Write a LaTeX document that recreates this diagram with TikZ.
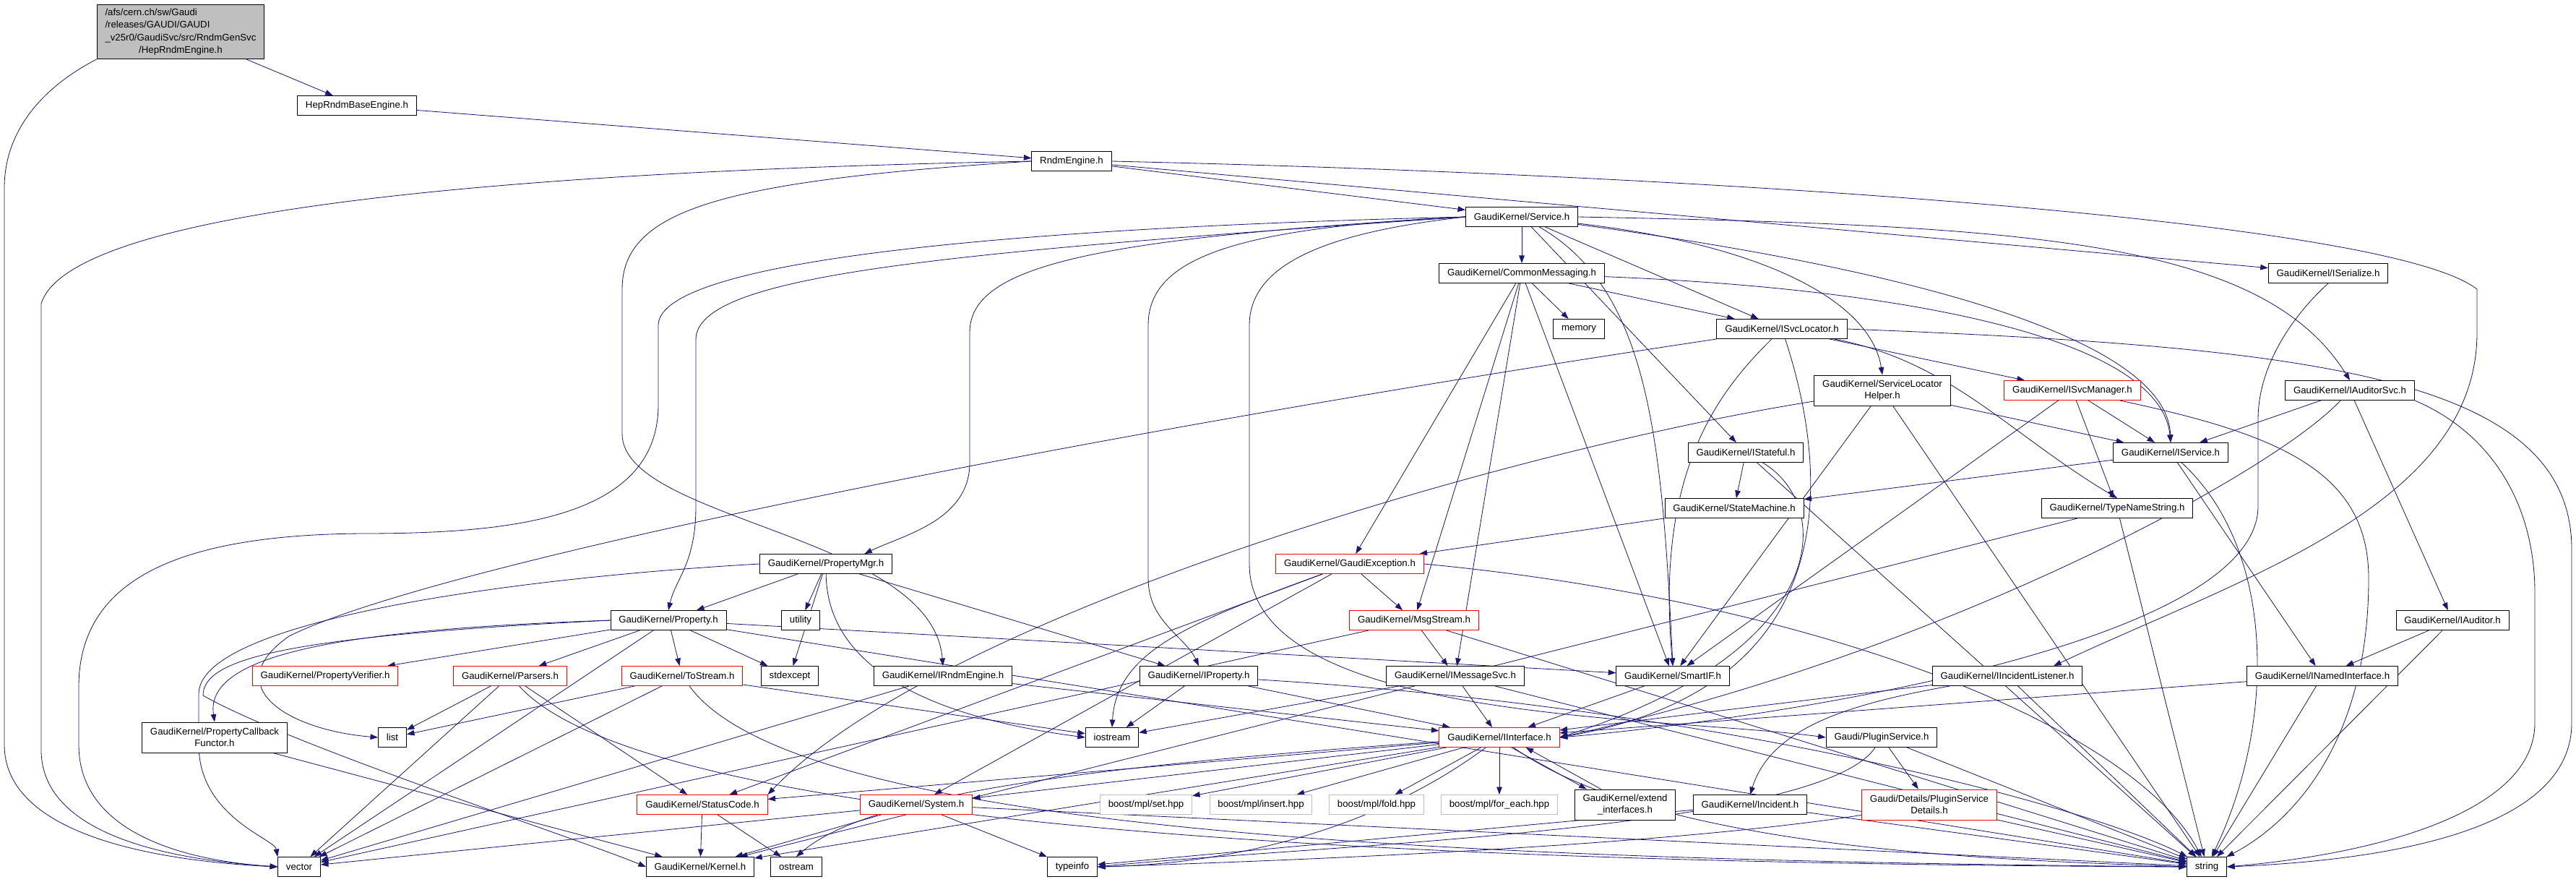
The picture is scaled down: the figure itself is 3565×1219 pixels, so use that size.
\documentclass[tikz,border=0pt]{standalone}
\usepackage{fontspec}
\setmainfont{Liberation Sans}
\usetikzlibrary{arrows.meta}
\definecolor{depblue}{HTML}{191970}
\definecolor{cutred}{HTML}{FF0000}
\definecolor{extgrey}{HTML}{BFBFBF}
\definecolor{rootgrey}{HTML}{BFBFBF}
\pgfdeclarelayer{edges}
\pgfsetlayers{edges,main}

\begin{document}
\begin{tikzpicture}[x=0.03cm,y=-0.03cm,
  hdr/.style={draw,fill=white,line width=0.8pt,font=\fontsize{11.3}{13.4}\selectfont,
    inner xsep=0.34cm,inner ysep=0pt,minimum height=0.81cm},
  cut/.style={hdr,draw=cutred},
  extern/.style={hdr,draw=extgrey},
  two/.style={align=center,minimum height=1.26cm},
  dep/.style={draw=depblue,line width=0.7pt,-{Triangle[length=9pt,width=6.5pt]}}]
  \useasboundingbox (0,0) rectangle (3565,1219);
  % header files, placed row by row
  \node[hdr,fill=rootgrey,minimum height=2.25cm] (root) at (250,44)
    {\renewcommand{\arraystretch}{1.12}\begin{tabular}{@{}l@{}}/afs/cern.ch/sw/Gaudi\\/releases/GAUDI/GAUDI\\\_v25r0/GaudiSvc/src/RndmGenSvc\\\multicolumn{1}{@{}c@{}}{/HepRndmEngine.h}\end{tabular}};
  \node[hdr] (hrbe) at (494,146) {HepRndmBaseEngine.h};
  \node[hdr] (rndm) at (1483,223) {RndmEngine.h};
  \node[hdr] (svc) at (2106,300) {GaudiKernel/Service.h};
  \node[hdr] (cmsg) at (2106,378) {GaudiKernel/CommonMessaging.h};
  \node[hdr] (iser) at (3222,378) {GaudiKernel/ISerialize.h};
  \node[hdr] (mem) at (2185,455) {memory};
  \node[hdr] (isl) at (2466,455) {GaudiKernel/ISvcLocator.h};
  \node[hdr,two] (slh) at (2605,540) {GaudiKernel/ServiceLocator\\Helper.h};
  \node[cut] (ism) at (2868,540) {GaudiKernel/ISvcManager.h};
  \node[hdr] (iaud) at (3252,540) {GaudiKernel/IAuditorSvc.h};
  \node[hdr] (istf) at (2416,626) {GaudiKernel/IStateful.h};
  \node[hdr] (isrv) at (3004,626) {GaudiKernel/IService.h};
  \node[hdr] (stm) at (2400,703) {GaudiKernel/StateMachine.h};
  \node[hdr] (tns) at (2930,703) {GaudiKernel/TypeNameString.h};
  \node[hdr] (pmgr) at (1143,780) {GaudiKernel/PropertyMgr.h};
  \node[cut] (gexc) at (1868,780) {GaudiKernel/GaudiException.h};
  \node[hdr] (prop) at (925,858) {GaudiKernel/Property.h};
  \node[hdr] (util) at (1108,858) {utility};
  \node[cut] (msg) at (1957,858) {GaudiKernel/MsgStream.h};
  \node[hdr] (iaudr) at (3394,858) {GaudiKernel/IAuditor.h};
  \node[cut] (pver) at (450,935) {GaudiKernel/PropertyVerifier.h};
  \node[cut] (pars) at (706,935) {GaudiKernel/Parsers.h};
  \node[cut] (tost) at (944,935) {GaudiKernel/ToStream.h};
  \node[hdr] (stdx) at (1093,935) {stdexcept};
  \node[hdr] (irnd) at (1305,935) {GaudiKernel/IRndmEngine.h};
  \node[hdr] (iprp) at (1659,935) {GaudiKernel/IProperty.h};
  \node[hdr] (imsg) at (2014,935) {GaudiKernel/IMessageSvc.h};
  \node[hdr] (sif) at (2315,935) {GaudiKernel/SmartIF.h};
  \node[hdr] (iinc) at (2778,935) {GaudiKernel/IIncidentListener.h};
  \node[hdr] (inam) at (3214,935) {GaudiKernel/INamedInterface.h};
  \node[hdr,two] (pcf) at (297,1020) {GaudiKernel/PropertyCallback\\Functor.h};
  \node[hdr] (lst) at (543,1020) {list};
  \node[hdr] (iost) at (1539,1020) {iostream};
  \node[cut] (iint) at (2075,1020) {GaudiKernel/IInterface.h};
  \node[hdr] (plg) at (2604,1020) {Gaudi/PluginService.h};
  \node[cut] (stc) at (972,1113) {GaudiKernel/StatusCode.h};
  \node[cut] (sys) at (1268,1113) {GaudiKernel/System.h};
  \node[extern] (bset) at (1586,1113) {boost/mpl/set.hpp};
  \node[extern] (bins) at (1745,1113) {boost/mpl/insert.hpp};
  \node[extern] (bfold) at (1905,1113) {boost/mpl/fold.hpp};
  \node[extern] (bfe) at (2075,1113) {boost/mpl/for\_each.hpp};
  \node[hdr,two] (ext) at (2249,1113) {GaudiKernel/extend\\\_interfaces.h};
  \node[hdr] (incid) at (2422,1113) {GaudiKernel/Incident.h};
  \node[cut,two] (pdet) at (2670,1113) {Gaudi/Details/PluginService\\Details.h};
  \node[hdr] (vec) at (414,1199) {vector};
  \node[hdr] (kern) at (969,1199) {GaudiKernel/Kernel.h};
  \node[hdr] (ostr) at (1102,1199) {ostream};
  \node[hdr] (tinfo) at (1484,1199) {typeinfo};
  \node[hdr] (str) at (3054,1199) {string};

  \begin{pgfonlayer}{edges}
  % top of the graph
  \draw[dep] (root) -- (hrbe);
  \draw[dep] (root.south west) .. controls (60,120) and (6,180) .. (6,260) -- (6,1030) .. controls (6,1150) and (200,1190) .. (vec.west);
  \draw[dep] (hrbe) -- (rndm);
  \draw[dep] (rndm) -- (svc); \draw[dep] (rndm) -- (iser);
  \draw[dep] (rndm.east) .. controls (2300,240) and (3300,300) .. (3428,400) -- (3428,460) .. controls (3428,700) and (3100,800) .. ([xshift=-1.2cm]iinc.north east);
  \draw[dep] (rndm.west) .. controls (1000,250) and (861,290) .. (861,400) -- (861,600) .. controls (861,720) and (1290,740) .. (irnd.north);
  \draw[dep] (rndm.west) .. controls (800,235) and (100,280) .. (57,420) -- (57,1040) .. controls (60,1160) and (250,1190) .. (vec.west);
  % Service.h
  \draw[dep] (svc) -- (cmsg); \draw[dep] (svc) -- (isl); \draw[dep] (svc) -- (istf);
  \draw[dep] (svc.west) .. controls (1500,330) and (1342,370) .. (1342,460) -- (1342,640) .. controls (1342,720) and (1250,740) .. ([xshift=1.6cm]pmgr.north);
  \draw[dep] (svc.west) .. controls (1300,350) and (963,380) .. (963,470) -- (963,700) .. controls (963,780) and (935,800) .. (prop.north);
  \draw[dep] (svc.west) .. controls (1700,315) and (1589,360) .. (1589,450) -- (1589,800) .. controls (1589,860) and (1640,880) .. (iprp.north);
  \draw[dep] (svc.west) .. controls (1850,320) and (1729,360) .. (1729,450) -- (1729,780) .. controls (1729,1000) and (2300,990) .. (plg.west);
  \draw[dep] (svc.west) .. controls (1400,315) and (911,360) .. (911,450) -- (911,560) .. controls (911,720) and (700,738) .. (500,738) .. controls (250,740) and (109,800) .. (109,950) -- (109,1030) .. controls (109,1150) and (250,1190) .. (vec.west);
  \draw[dep] (svc) .. controls (2450,340) and (2590,420) .. (slh.north);
  \draw[dep] (svc.east) .. controls (2800,312) and (3130,330) .. (iaud.north);
  \draw[dep] (svc) .. controls (2280,400) and (2300,600) .. (sif.north);
  \draw[dep] (svc) .. controls (2700,380) and (3000,480) .. (isrv.north);
  % CommonMessaging.h
  \draw[dep] (cmsg) -- (mem); \draw[dep] (cmsg) -- (isl); \draw[dep] (cmsg) -- (gexc);
  \draw[dep] (cmsg) -- (msg); \draw[dep] (cmsg) -- (imsg); \draw[dep] (cmsg) -- (sif);
  \draw[dep] (cmsg) .. controls (2650,400) and (2990,470) .. (isrv.north);
  % ISvcLocator.h, ServiceLocatorHelper.h, ISvcManager.h
  \draw[dep] (isl.south west) .. controls (1500,600) and (600,780) .. (400,880) .. controls (300,950) and (400,1010) .. (lst.west);
  \draw[dep] (isl) .. controls (2380,540) and (2290,650) .. (sif.north);
  \draw[dep] (isl) .. controls (2530,650) and (2560,950) .. (iint.east);
  \draw[dep] (isl) -- (ism);
  \draw[dep] (isl) .. controls (2700,500) and (2780,600) .. (tns.north);
  \draw[dep] (isl.east) .. controls (3200,480) and (3559,520) .. (3559,760) -- (3559,1000) .. controls (3559,1150) and (3300,1190) .. (str.east);
  \draw[dep] (slh) -- (isrv); \draw[dep] (slh) -- (sif); \draw[dep] (slh) -- (str);
  \draw[dep] (slh) .. controls (2100,620) and (1300,850) .. (stc.north east);
  \draw[dep] (ism) -- (isrv); \draw[dep] (ism) -- (tns); \draw[dep] (ism) -- (sif);
  \draw[dep] (ism) .. controls (3150,600) and (3278,650) .. (3278,800) .. controls (3278,1050) and (3150,1150) .. (str);
  % IAuditorSvc.h
  \draw[dep] (iaud) -- (isrv); \draw[dep] (iaud) -- (iaudr);
  \draw[dep] (iaud) .. controls (3150,650) and (2700,900) .. (iint.east);
  \draw[dep] (iaud.south east) .. controls (3450,600) and (3508,700) .. (3508,820) -- (3508,1000) .. controls (3508,1120) and (3300,1180) .. (str.east);
  % IStateful.h, IService.h, StateMachine.h, TypeNameString.h
  \draw[dep] (istf) -- (stm); \draw[dep] (istf) -- (str);
  \draw[dep] (istf) .. controls (2540,700) and (2535,900) .. (iint.east);
  \draw[dep] (isrv) -- (stm); \draw[dep] (isrv) -- (inam);
  \draw[dep] (isrv) .. controls (3150,760) and (3150,1000) .. (str);
  \draw[dep] (stm) -- (gexc);
  \draw[dep] (tns) -- (str); \draw[dep] (tns) -- (kern);
  % PropertyMgr.h, GaudiException.h
  \draw[dep] (pmgr) -- (prop); \draw[dep] (pmgr) -- (iprp); \draw[dep] (pmgr) -- (util); \draw[dep] (pmgr) -- (stdx);
  \draw[dep] (pmgr) .. controls (1145,950) and (1350,1000) .. (iost.west);
  \draw[dep] (pmgr.west) .. controls (700,800) and (275,860) .. (275,960) -- (275,1030) .. controls (275,1130) and (380,1160) .. (vec.north west);
  \draw[dep] (gexc) -- (msg); \draw[dep] (gexc) -- (stc); \draw[dep] (gexc) -- (sys);
  \draw[dep] (gexc) .. controls (1650,860) and (1545,900) .. (iost.north);
  \draw[dep] (gexc.east) .. controls (2500,830) and (2950,1000) .. (str);
  % Property.h, Parsers.h, ToStream.h
  \draw[dep] (prop) -- (pver); \draw[dep] (prop) -- (pars); \draw[dep] (prop) -- (tost); \draw[dep] (prop) -- (stdx);
  \draw[dep] (prop) -- (sif); \draw[dep] (prop) -- (str); \draw[dep] (prop) -- (vec);
  \draw[dep] (prop.west) .. controls (500,870) and (282,900) .. (pcf.north);
  \draw[dep] (prop.west) .. controls (400,880) and (281,910) .. (281,962) .. controls (400,1030) and (800,1160) .. (kern.west);
  \draw[dep] (pars) -- (lst); \draw[dep] (pars) -- (vec); \draw[dep] (pars) -- (stc);
  \draw[dep] (pars) .. controls (900,1150) and (2000,1195) .. (str.west);
  \draw[dep] (tost) -- (lst); \draw[dep] (tost) -- (vec); \draw[dep] (tost) -- (iost);
  \draw[dep] (tost) .. controls (1100,1150) and (2000,1190) .. (str.west);
  % interfaces
  \draw[dep] (irnd) -- (iint); \draw[dep] (irnd) -- (vec);
  \draw[dep] (iprp) -- (iost); \draw[dep] (iprp) -- (iint);
  \draw[dep] (iprp) .. controls (2400,980) and (2900,1120) .. (str);
  \draw[dep] (imsg) -- (iint); \draw[dep] (imsg) -- (iost); \draw[dep] (imsg) -- (str);
  \draw[dep] (sif) -- (iint);
  \draw[dep] (msg) -- (imsg); \draw[dep] (msg) -- (vec); \draw[dep] (msg) -- (str);
  \draw[dep] (iinc) -- (iint); \draw[dep] (iinc) -- (str);
  \draw[dep] (iinc) .. controls (2550,975) and (2450,1010) .. (incid.north);
  \draw[dep] (inam) -- (iint); \draw[dep] (inam) -- (str);
  \draw[dep] (iaudr) -- (inam); \draw[dep] (iaudr) -- (str);
  \draw[dep] (iser.south) .. controls (3180,430) and (3125,500) .. (3125,580) -- (3125,700) .. controls (3125,900) and (2400,1000) .. (iint.east);
  % IInterface.h and the bottom rows
  \draw[dep] (iint) -- (stc); \draw[dep] (iint) -- (sys); \draw[dep] (iint) -- (kern);
  \draw[dep] (iint) .. controls (1500,1060) and (1200,1100) .. (ostr.north);
  \draw[dep] (iint) .. controls (1900,1150) and (1700,1195) .. (tinfo.east);
  \draw[dep] (iint) -- (bset); \draw[dep] (iint) -- (bins); \draw[dep] (iint) -- (bfold); \draw[dep] (iint) -- (bfe);
  \draw[dep] ([xshift=0.5cm]iint.south) -- ([xshift=-1.6cm]ext.north);
  \draw[dep] ([xshift=-1.0cm]ext.north) -- ([xshift=1.1cm]iint.south);
  \draw[dep] (iint) .. controls (2300,1180) and (2800,1190) .. (str.west);
  \draw[dep] (stc) -- (kern); \draw[dep] (stc) -- (ostr);
  \draw[dep] (sys) -- (kern); \draw[dep] (sys) -- (tinfo); \draw[dep] (sys) -- (str); \draw[dep] (sys) -- (vec);
  \draw[dep] (plg) -- (pdet); \draw[dep] (plg) -- (str);
  \draw[dep] (plg) .. controls (2520,1150) and (1800,1170) .. (tinfo.east);
  \draw[dep] (pdet) .. controls (2300,1170) and (1800,1190) .. (tinfo.east);
  \draw[dep] (pdet) -- (str);
  \draw[dep] (incid) -- (tinfo); \draw[dep] (incid) -- (str);
  \draw[dep] (pcf) -- (kern);
  \end{pgfonlayer}
\end{tikzpicture}
\end{document}
